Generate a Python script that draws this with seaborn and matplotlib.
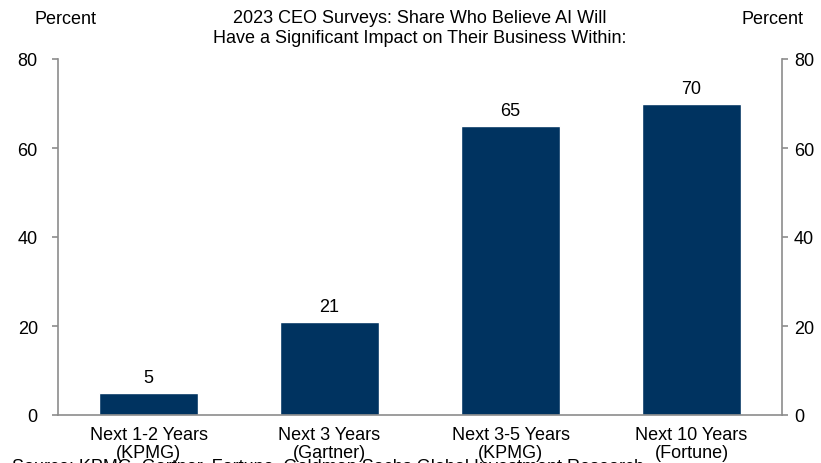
import matplotlib
matplotlib.use("Agg")
import matplotlib.pyplot as plt
import seaborn as sns
import pandas as pd
import numpy as np

categories = ["Next 1-2 Years\n(KPMG)", "Next 3 Years\n(Gartner)",
              "Next 3-5 Years\n(KPMG)", "Next 10 Years\n(Fortune)"]
shares = [5, 21, 65, 70]
y_ticks = [0, 20, 40, 60, 80]
title_text = "2023 CEO Surveys: Share Who Believe AI Will\nHave a Significant Impact on Their Business Within:"
source_text = "Source: KPMG, Gartner, Fortune, Goldman Sachs Global Investment Research"

sns.set_style("white")
plt.rcParams["font.family"] = ["Liberation Sans", "DejaVu Sans"]
plt.rcParams["text.color"] = "black"

bar_color = "#003360"
spine_color = "#8c8c8c"
fs = 13

df = pd.DataFrame({"category": categories, "share": shares})

fig = plt.figure(figsize=(8.21, 4.64), dpi=100)
ax = fig.add_axes([58 / 821, 1 - 416 / 464, (782 - 58) / 821, (416 - 60) / 464])

sns.barplot(data=df, x="category", y="share", color=bar_color, width=0.55,
            saturation=1, ax=ax)

ax.set_xlim(-0.5, len(categories) - 0.5)
ax.set_ylim(0, 80)
ax.set_yticks(y_ticks)
ax.set_xlabel("")
ax.set_ylabel("")

for i, v in enumerate(shares):
    ax.annotate(f"{v}", xy=(i, v), xytext=(0, 4.5), textcoords="offset points",
                ha="center", va="bottom", fontsize=fs, color="black")

# spines
for side in ["top", "right"]:
    ax.spines[side].set_visible(False)
for side in ["left", "bottom"]:
    ax.spines[side].set_color(spine_color)
    ax.spines[side].set_linewidth(1.2)

ax.tick_params(axis="y", direction="out", length=4.5, width=1.2, color=spine_color,
               labelsize=fs, pad=10, labelcolor="black")
ax.tick_params(axis="x", which="major", length=0, labelsize=fs, pad=8,
               labelcolor="black")
ax.set_xticks(np.arange(-0.5, len(categories)), minor=True)
ax.tick_params(axis="x", which="minor", direction="out", length=4.5, width=1.2,
               color=spine_color)
for lbl in ax.get_xticklabels():
    lbl.set_linespacing(1.08)

# right-hand axis mirrors the left scale
ax2 = ax.twinx()
ax2.set_ylim(0, 80)
ax2.set_yticks(y_ticks)
for side in ["top", "left", "bottom"]:
    ax2.spines[side].set_visible(False)
ax2.spines["right"].set_color(spine_color)
ax2.spines["right"].set_linewidth(1.2)
ax2.tick_params(axis="y", direction="out", length=4.5, width=1.2, color=spine_color,
                labelsize=fs, pad=4, labelcolor="black")

fig.text(65 / 821, 1 - 19 / 464, "Percent", ha="center", va="center", fontsize=fs)
fig.text(772 / 821, 1 - 19 / 464, "Percent", ha="center", va="center", fontsize=fs)
fig.text(420 / 821, 1 - 28.5 / 464, title_text, ha="center", va="center",
         fontsize=fs, linespacing=1.2)
fig.text(12 / 821, 1 - 459 / 464, source_text, ha="left", va="top", fontsize=fs)

fig.savefig("out.png", dpi=100)
